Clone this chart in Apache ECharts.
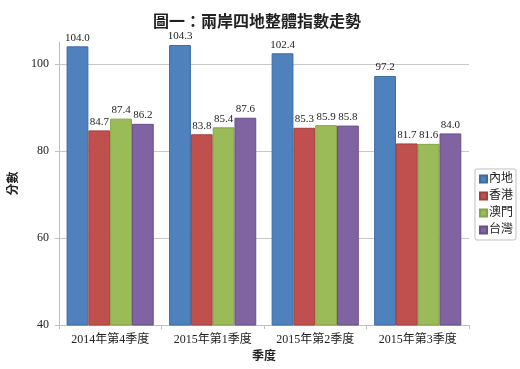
<!DOCTYPE html>
<html><head><meta charset="utf-8">
<script src="https://cdn.jsdelivr.net/npm/echarts@6/dist/echarts.min.js"></script>
<style>html,body{margin:0;padding:0;background:#fff}#c{width:520px;height:369px}</style>
</head><body><div id="c"></div>
<script>
var title = '圖一：兩岸四地整體指數走勢';
var categories = ['2014年第4季度', '2015年第1季度', '2015年第2季度', '2015年第3季度'];
var seriesNames = ['內地', '香港', '澳門', '台灣'];
var mainland = [104.0, 104.3, 102.4, 97.2];
var hongkong = [84.7, 83.8, 85.3, 81.7];
var macau = [87.4, 85.4, 85.9, 81.6];
var taiwan = [86.2, 87.6, 85.8, 84.0];
var yMin = 40, yMax = 105, yInterval = 20;

var values = [mainland, hongkong, macau, taiwan];
var colors = ['#4F81BD', '#C0504D', '#9BBB59', '#8064A2'];
var borders = ['#3B6BA5', '#A43E3B', '#84A544', '#6A4F8C'];
var serif = "'Liberation Serif','Times New Roman','Noto Sans CJK TC',serif";

var chart = echarts.init(document.getElementById('c'), null, {renderer: 'canvas'});
chart.setOption({
  backgroundColor: '#fff',
  animation: false,
  title: {
    text: title, left: 252, top: 8, textAlign: 'center',
    textStyle: {fontSize: 16, fontWeight: 'bold', color: '#222', fontFamily: "'Noto Sans CJK TC',sans-serif"}
  },
  legend: {
    orient: 'vertical', right: 4, top: 169,
    data: seriesNames, itemWidth: 7, itemHeight: 7, itemGap: 5,
    icon: 'rect', padding: [4, 3, 4, 4],
    borderColor: '#bfbfbf', borderWidth: 1, borderRadius: 2,
    textStyle: {fontSize: 12, color: '#222', fontFamily: serif, padding: [0, 0, 0, -3]}
  },
  grid: {left: 52, right: 51, top: 42, bottom: 44, containLabel: false},
  xAxis: {
    type: 'category', data: categories,
    name: '季度', nameLocation: 'middle', nameGap: 24,
    nameTextStyle: {fontSize: 12, fontWeight: 'bold', color: '#222', fontFamily: serif},
    axisLine: {lineStyle: {color: '#bfbfbf'}},
    axisTick: {show: true, alignWithLabel: false, length: 4, lineStyle: {color: '#bfbfbf'}},
    axisLabel: {fontSize: 12, color: '#222', fontFamily: serif, margin: 9}
  },
  yAxis: {
    type: 'value', min: yMin, max: yMax, interval: yInterval,
    name: '分數', nameLocation: 'middle', nameGap: 34, nameRotate: 90,
    nameTextStyle: {fontSize: 12, fontWeight: 'bold', color: '#222', fontFamily: serif},
    axisLine: {show: true, lineStyle: {color: '#bfbfbf'}},
    axisTick: {show: true, length: 4, lineStyle: {color: '#bfbfbf'}},
    axisLabel: {fontSize: 12, color: '#222', fontFamily: serif, margin: 10, showMaxLabel: false},
    splitLine: {show: true, lineStyle: {color: ['#c8c8c8', '#c8c8c8', '#c8c8c8', '#c8c8c8', 'rgba(0,0,0,0)']}}
  },
  series: seriesNames.map(function (n, i) {
    return {
      name: n, type: 'bar', data: values[i],
      barGap: '0%', barCategoryGap: '15%',
      itemStyle: {color: colors[i], borderColor: borders[i], borderWidth: 1},
      label: {
        show: true, position: 'top', distance: 3, fontSize: 11, color: '#222', fontFamily: serif,
        formatter: function (p) { return p.value.toFixed(1); }
      }
    };
  })
});
</script></body></html>
